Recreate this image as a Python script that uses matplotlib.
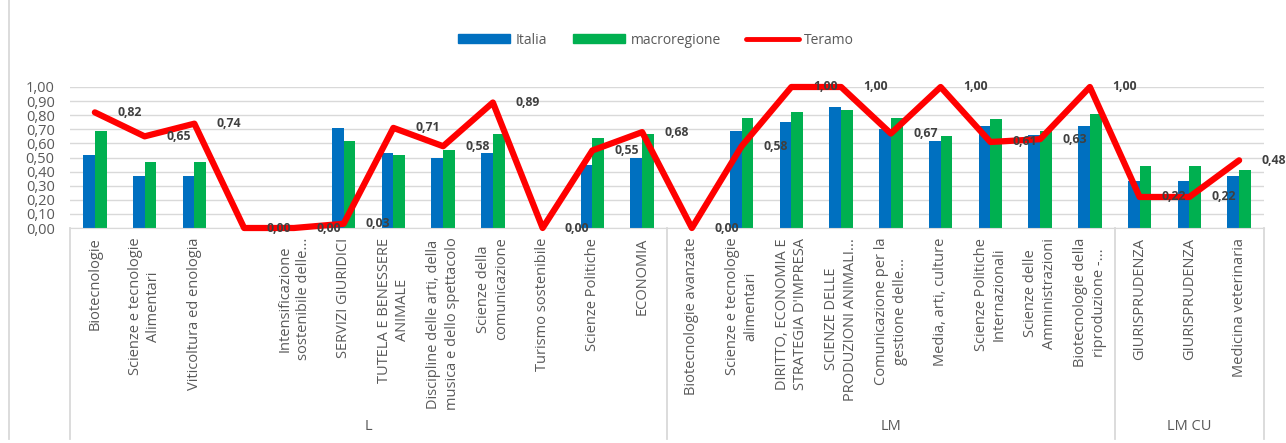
import numpy as np
import matplotlib
matplotlib.use("Agg")
import matplotlib.pyplot as plt
from matplotlib.lines import Line2D
from matplotlib.patches import Patch
from matplotlib.ticker import FuncFormatter
import matplotlib.transforms as mtransforms

plt.rcParams['font.family'] = ['Open Sans', 'DejaVu Sans']

# corsi di studio (etichette come appaiono sull'asse)
categorie = [
    "Biotecnologie",
    "Scienze e tecnologie\nAlimentari",
    "Viticoltura ed enologia",
    "",
    "Intensificazione\nsostenibile delle...",
    "SERVIZI GIURIDICI",
    "TUTELA E BENESSERE\nANIMALE",
    "Discipline delle arti, della\nmusica e dello spettacolo",
    "Scienze della\ncomunicazione",
    "Turismo sostenibile",
    "Scienze Politiche",
    "ECONOMIA",
    "Biotecnologie avanzate",
    "Scienze e tecnologie\nalimentari",
    "DIRITTO, ECONOMIA E\nSTRATEGIA D'IMPRESA",
    "SCIENZE DELLE\nPRODUZIONI ANIMALI...",
    "Comunicazione per la\ngestione delle...",
    "Media, arti, culture",
    "Scienze Politiche\nInternazionali",
    "Scienze delle\nAmministrazioni",
    "Biotecnologie della\nriproduzione -...",
    "GIURISPRUDENZA",
    "GIURISPRUDENZA",
    "Medicina veterinaria",
]
gruppi = ["L", "LM", "LM CU"]
n_per_gruppo = [12, 9, 3]

nan = np.nan
italia = [0.52, 0.37, 0.37, nan, nan, 0.71, 0.53, 0.50, 0.53, nan, 0.45, 0.50,
          nan, 0.69, 0.75, 0.86, 0.70, 0.62, 0.72, 0.66, 0.72, 0.33, 0.33, 0.37]
macroregione = [0.69, 0.47, 0.47, nan, nan, 0.62, 0.52, 0.55, 0.67, nan, 0.64, 0.67,
                nan, 0.78, 0.82, 0.84, 0.78, 0.65, 0.77, 0.69, 0.81, 0.44, 0.44, 0.41]
teramo = [0.82, 0.65, 0.74, 0.00, 0.00, 0.03, 0.71, 0.58, 0.89, 0.00, 0.55, 0.68,
          0.00, 0.58, 1.00, 1.00, 0.67, 1.00, 0.61, 0.63, 1.00, 0.22, 0.22, 0.48]

BLU = '#0070c0'
VERDE = '#00b050'
ROSSO = '#ff0000'
GRIGIO_TESTO = '#595959'
GRIGIO_LINEE = '#d9d9d9'

W, H = 1286, 443
fig = plt.figure(figsize=(W / 100, H / 100), dpi=100)
ax = fig.add_axes([70 / W, 1 - 228 / H, (1264 - 70) / W, (228 - 87) / H])

x = np.arange(len(categorie))
bw = 0.235
ax.bar(x - bw / 2, italia, bw, color=BLU, zorder=2)
ax.bar(x + bw / 2, macroregione, bw, color=VERDE, zorder=2)
ax.plot(x, teramo, color=ROSSO, lw=4.5, solid_joinstyle='round',
        solid_capstyle='round', clip_on=False, zorder=3)

fmt = lambda v: f"{v:.2f}".replace('.', ',')
for xi, v in zip(x, teramo):
    ax.annotate(fmt(v), (xi, v), xytext=(16, 0), textcoords='offset points',
                ha='left', va='center', fontsize=8.8, fontweight='bold',
                color='#404040', zorder=5, annotation_clip=False)

ax.set_xlim(-0.5, len(categorie) - 0.5)
ax.set_ylim(0, 1)
ax.set_yticks(np.arange(0, 1.001, 0.1))
ax.yaxis.set_major_formatter(FuncFormatter(lambda v, p: fmt(v)))
ax.grid(axis='y', color=GRIGIO_LINEE, lw=1.0)
ax.set_axisbelow(True)
for s in ['top', 'right', 'left']:
    ax.spines[s].set_visible(False)
ax.spines['bottom'].set_color(GRIGIO_LINEE)
ax.tick_params(axis='y', length=0, pad=11, labelsize=10.5, labelcolor=GRIGIO_TESTO)
ax.tick_params(axis='x', length=0, pad=7)

ax.set_xticks(x)
ax.set_xticklabels(categorie, rotation=90, fontsize=10.5, color=GRIGIO_TESTO,
                   ha='center', va='top', multialignment='center', linespacing=1.3)

# riquadro delle categorie e gruppi L / LM / LM CU
trans = mtransforms.blended_transform_factory(ax.transData, ax.transAxes)
y_fondo = (228 - 439) / 141
bordi = np.concatenate([[0], np.cumsum(n_per_gruppo)]) - 0.5
for b in bordi:
    ax.plot([b, b], [0, y_fondo], color=GRIGIO_LINEE, lw=1.3,
            transform=trans, clip_on=False)
for g, a, b in zip(gruppi, bordi[:-1], bordi[1:]):
    ax.text((a + b) / 2, (228 - 426) / 141, g, transform=trans, ha='center',
            va='center', fontsize=10.5, color=GRIGIO_TESTO)

# bordo sinistro dell'area del grafico
fig.add_artist(Line2D([9 / W, 9 / W], [1 - 439 / H, 1], color=GRIGIO_LINEE, lw=1.3))

handles = [Patch(color=BLU), Patch(color=VERDE),
           Line2D([], [], color=ROSSO, lw=3.5, solid_capstyle='round')]
fig.legend(handles, ['Italia', 'macroregione', 'Teramo'], ncol=3, loc='center',
           bbox_to_anchor=(656 / W, 1 - 40 / H), frameon=False, fontsize=10,
           labelcolor=GRIGIO_TESTO, handlelength=3.75, handleheight=0.6,
           handletextpad=0.4, columnspacing=1.85)

fig.savefig('out.png', dpi=100)
